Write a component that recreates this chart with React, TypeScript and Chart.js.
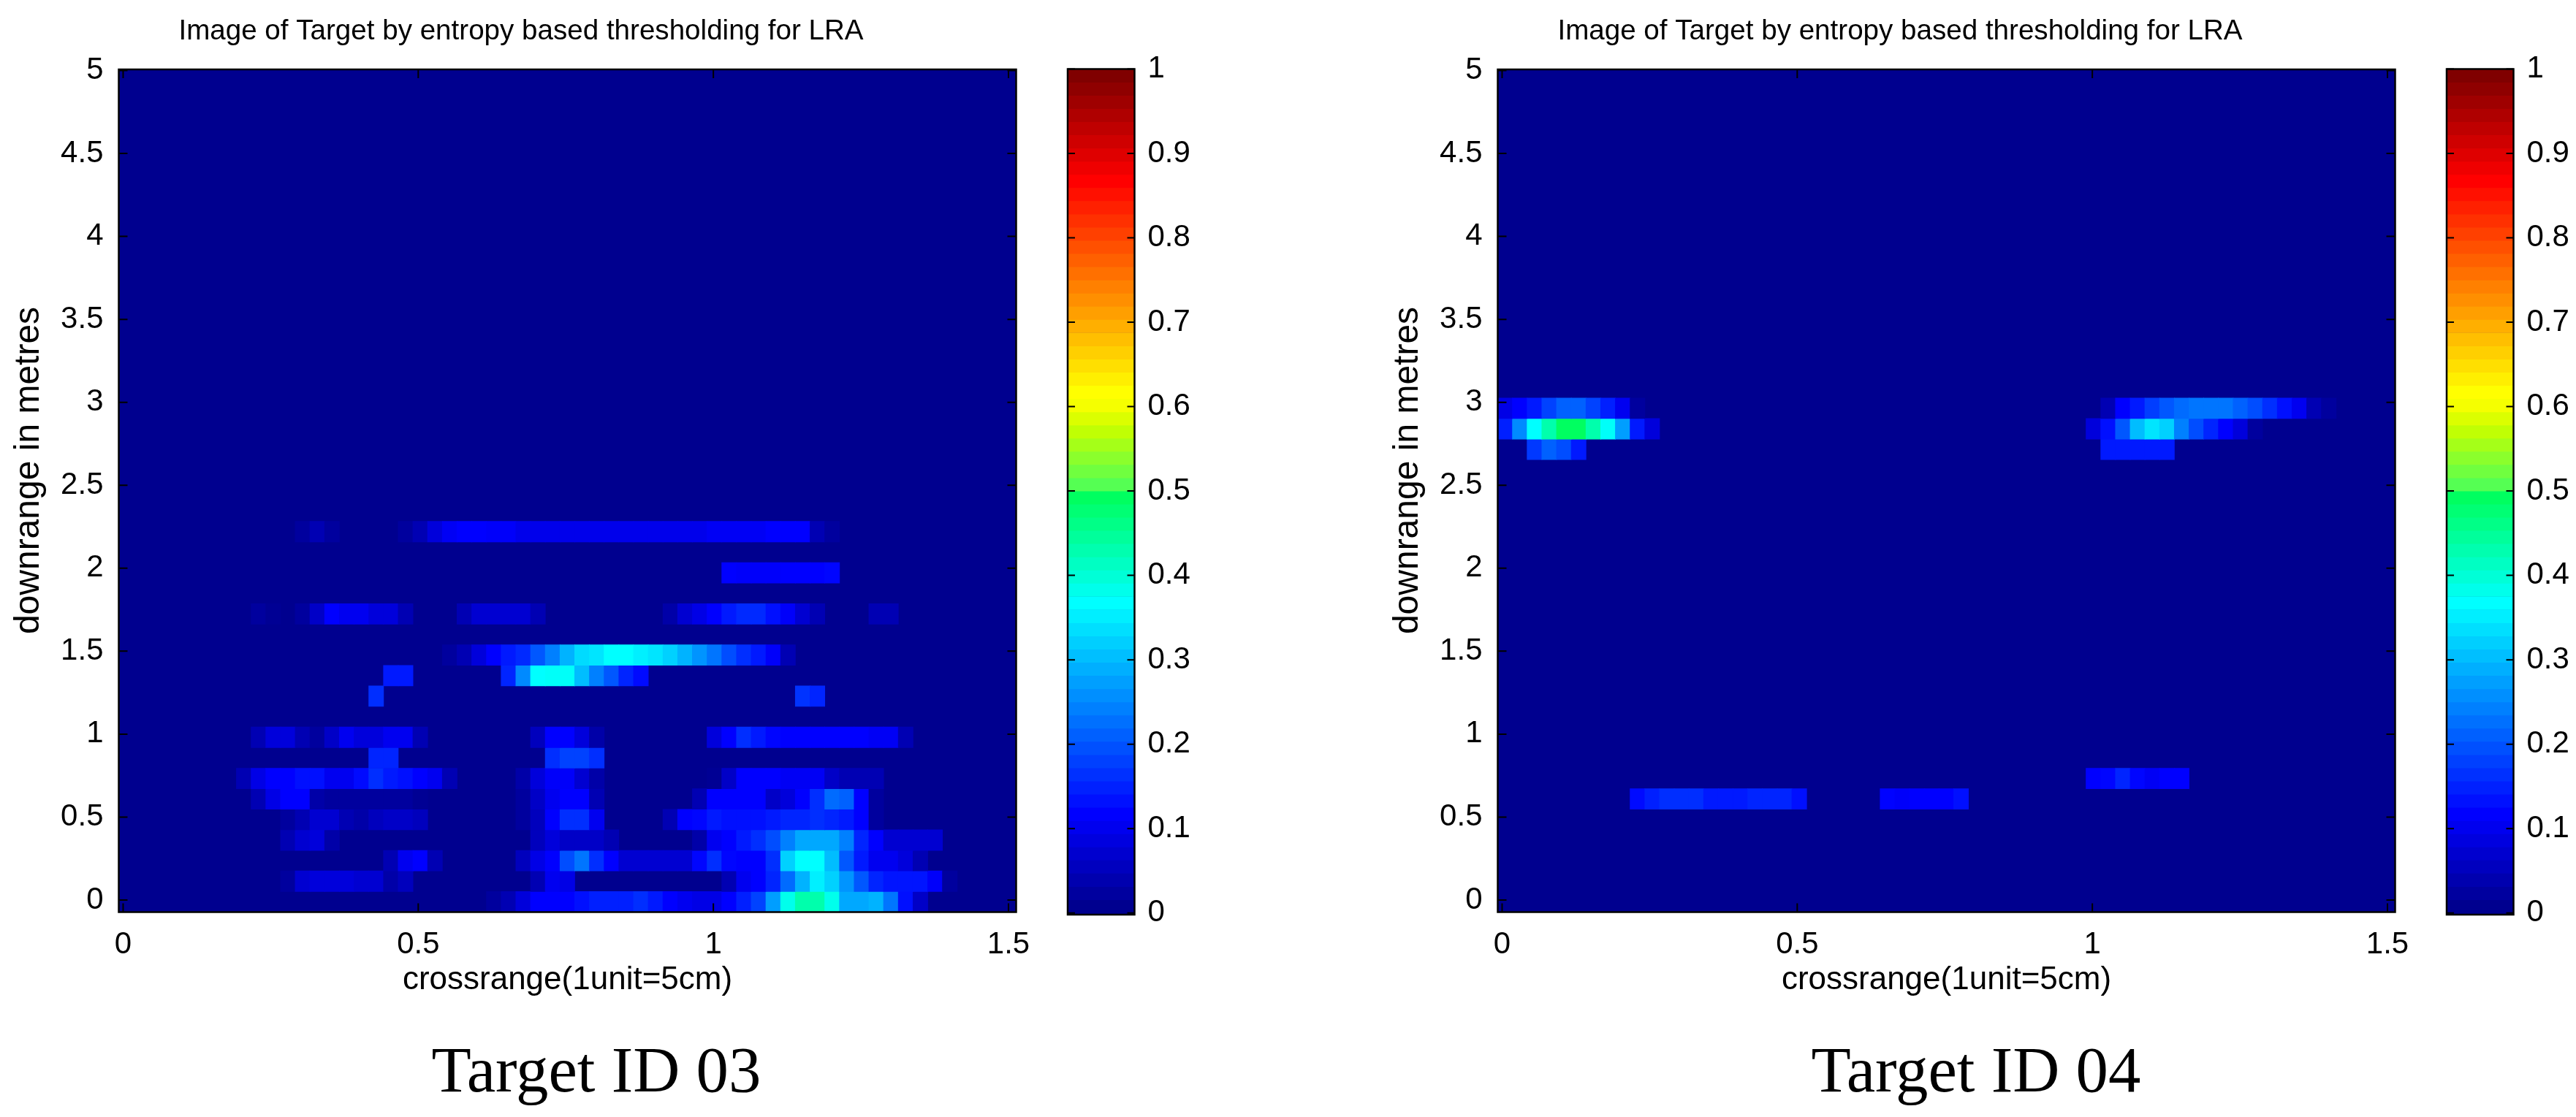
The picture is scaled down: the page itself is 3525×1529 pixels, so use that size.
import React, { useEffect, useRef } from "react";
import { Chart, registerables } from "chart.js";

Chart.register(...registerables);

const chartTitle = "Image of Target by entropy based thresholding for LRA";
const xAxisLabel = "crossrange(1unit=5cm)";
const yAxisLabel = "downrange in metres";
const captionLeft = "Target ID 03";
const captionRight = "Target ID 04";

// grid of the image: 61 columns, 41 rows (in axis units)
const xMin = -0.0074;
const xMax = 1.513;
const yMin = -0.0727;
const yMax = 5.0066;
const colStep = 0.02492;
const rowStep = 0.12395;
const colorLevels = 64;

// each row: segments of [first column, ...values]
const t03Row00 = [[25, .03, .05, .09, .125, .125, .125, .14, .155, .155, .155, .17, .15, .125, .11, .1, .1, .125, .155, .19, .28, .39, .44, .44, .39, .29, .29, .3, .24, .14, .07]];
const t03Row01 = [[11, .03, .08, .09, .09, .09, .08, .08, .04, .06], [28, .05, .11, .10], [41, .05, .11, .125, .16, .23, .3, .36, .33, .27, .21, .16, .145, .145, .145, .12, .03]];
const t03Row02 = [[18, .05, .11, .125, .05], [27, .06, .10, .125, .2, .24, .17, .125, .08, .08, .08, .08, .08, .13, .17, .13, .125, .125, .17, .33, .375, .375, .31, .21, .15, .11, .11, .09, .05]];
const t03Row03 = [[11, .05, .08, .09, .04], [28, .06, .09, .07, .07, .07, .05], [39, .04, .11, .125, .15, .17, .2, .25, .29, .29, .29, .25, .16, .125, .08, .08, .08, .08]];
const t03Row04 = [[11, .03, .05, .08, .08, .05, .04, .06, .07, .07, .06], [27, .03, .06, .125, .17, .17, .11], [37, .05, .125, .13, .15, .14, .14, .14, .15, .16, .16, .17, .16, .15, .125, .03]];
const t03Row05 = [[9, .05, .10, .125, .125, .04, .03, .03, .03, .03, .03, .03, .02], [27, .03, .07, .11, .125, .125, .05], [39, .05, .125, .125, .125, .125, .07, .09, .125, .17, .23, .22, .125, .03]];
const t03Row06 = [[8, .05, .10, .125, .125, .14, .14, .11, .11, .135, .17, .15, .14, .125, .11, .05], [27, .04, .09, .12, .12, .08, .04], [40, .02, .07, .125, .125, .125, .115, .115, .115, .07, .05, .05, .05]];
const t03Row07 = [[17, .16, .16], [29, .17, .19, .19, .17]];
const t03Row08 = [[9, .05, .09, .09, .05, .03, .07, .11, .09, .09, .11, .11, .05], [28, .06, .125, .125, .09, .04], [40, .09, .125, .17, .15, .13, .125, .125, .125, .125, .125, .125, .115, .115, .05]];
const t03Row10 = [[17, .17], [46, .175, .16]];
const t03Row11 = [[18, .15, .15], [26, .16, .26, .375, .38, .38, .31, .25, .21, .16, .135]];
const t03Row12 = [[22, .03, .05, .09, .125, .15, .165, .21, .25, .30, .34, .35, .375, .375, .36, .35, .33, .3, .27, .24, .2, .17, .15, .12, .05]];
const t03Row14 = [[9, .03, .02], [12, .03, .07, .125, .11, .11, .09, .09, .05], [23, .05, .08, .08, .08, .08, .05], [37, .04, .08, .10, .125, .15, .165, .165, .14, .12, .08, .05], [51, .05, .05]];
const t03Row16 = [[41, .125, .12, .12, .12, .125, .125, .125, .13]];
const t03Row18 = [[12, .03, .05, .03], [19, .03, .05, .09, .115, .125, .125, .12, .12, .105, .105, .105, .105, .105, .105, .105, .105, .105, .105, .105, .105, .105, .115, .115, .115, .115, .125, .125, .125, .05, .03]];

const t04Row05 = [[9, .135, .155, .17, .17, .17, .15, .15, .15, .16, .16, .16, .14], [26, .127, .12, .125, .125, .125, .14]];
const t04Row06 = [[40, .125, .13, .16, .13, .115, .125, .125]];
const t04Row22 = [[2, .18, .22, .2, .15], [41, .15, .15, .15, .15, .15]];
const t04Row23 = [[0, .155, .26, .375, .44, .5, .5, .44, .38, .28, .15, .09], [40, .09, .14, .21, .31, .35, .33, .25, .2, .16, .125, .09, .03]];
const t04Row24 = [[0, .10, .125, .15, .19, .22, .22, .19, .155, .11, .03], [41, .05, .125, .15, .185, .21, .23, .24, .24, .24, .22, .2, .17, .14, .11, .05, .03]];

const target03RowIndex = [0, 1, 2, 3, 4, 5, 6, 7, 8, 10, 11, 12, 14, 16, 18];
const target03Rows = [t03Row00, t03Row01, t03Row02, t03Row03, t03Row04, t03Row05, t03Row06, t03Row07, t03Row08, t03Row10, t03Row11, t03Row12, t03Row14, t03Row16, t03Row18];
const target04RowIndex = [5, 6, 22, 23, 24];
const target04Rows = [t04Row05, t04Row06, t04Row22, t04Row23, t04Row24];

const FONT = "'Liberation Sans', Arial, sans-serif";
const NAVY = "#00008F";

// the reference's jet variant: red starts abruptly just above 0.5
function jet(v: number) {
  const t = Math.max(v, 1 / 64);
  const c = (x: number) => Math.round(255 * Math.min(1, Math.max(0, x)));
  const r = t < 0.508 ? 0 : Math.min(0.33 + (t - 0.515) * 6.7, 4.5 - 4 * t);
  const g = Math.min(4 * t - 0.5, 3.5 - 4 * t);
  const b = t <= 0.375 ? Math.min(1, 4 * t + 0.5) : t < 0.508 ? 1 - 5 * (t - 0.375) : 0.33 - (t - 0.515) * 5;
  return `rgb(${c(r)},${c(g)},${c(b)})`;
}

function cellsFrom(rowIndex: number[], rows: number[][][]) {
  const data: { x: number; y: number[] }[] = [];
  const colors: string[] = [];
  rows.forEach((segments, k) => {
    const lo = yMin + rowIndex[k] * rowStep;
    segments.forEach(([start, ...values]) => {
      values.forEach((v, i) => {
        data.push({ x: xMin + (start + i + 0.5) * colStep, y: [lo, lo + rowStep] });
        colors.push(jet(v));
      });
    });
  });
  return { data, colors };
}

const framePlugin = {
  id: "frame",
  beforeDatasetsDraw(chart: any) {
    const { ctx, chartArea: a } = chart;
    ctx.save();
    ctx.fillStyle = chart.options.plugins.frame.fill;
    ctx.fillRect(a.left, a.top, a.right - a.left, a.bottom - a.top);
    ctx.restore();
  },
  afterDatasetsDraw(chart: any) {
    const { ctx, chartArea: a, scales } = chart;
    const o = chart.options.plugins.frame;
    ctx.save();
    ctx.strokeStyle = "#000";
    ctx.lineWidth = 2;
    ctx.beginPath();
    for (const t of scales.y.ticks) {
      const p = scales.y.getPixelForValue(t.value);
      ctx.moveTo(a.left, p);
      ctx.lineTo(a.left + o.tick, p);
      ctx.moveTo(a.right, p);
      ctx.lineTo(a.right - o.tick, p);
    }
    if (o.xTicks) {
      for (const t of scales.x.ticks) {
        const p = scales.x.getPixelForValue(t.value);
        ctx.moveTo(p, a.bottom);
        ctx.lineTo(p, a.bottom - o.tick);
        ctx.moveTo(p, a.top);
        ctx.lineTo(p, a.top + o.tick);
      }
    }
    ctx.stroke();
    ctx.lineWidth = 2.5;
    ctx.strokeRect(a.left, a.top, a.right - a.left, a.bottom - a.top);
    if (o.yLabel) {
      ctx.fillStyle = "#000";
      ctx.font = `48px ${FONT}`;
      ctx.textAlign = "center";
      ctx.textBaseline = "middle";
      ctx.translate(40, 644);
      ctx.rotate(-Math.PI / 2);
      ctx.fillText(o.yLabel, 0, 0);
    }
    ctx.restore();
  },
};

function heatConfig(rowIndex: number[], rows: number[][][]): any {
  const { data, colors } = cellsFrom(rowIndex, rows);
  return {
    type: "bar",
    data: {
      datasets: [
        { data, backgroundColor: colors, borderWidth: 0, barThickness: 20.3, grouped: false },
      ],
    },
    plugins: [framePlugin],
    options: {
      animation: false,
      responsive: false,
      events: [],
      layout: { padding: { top: 0, left: 35.5, right: 33.5, bottom: 160.5 } },
      plugins: {
        legend: { display: false },
        tooltip: { enabled: false },
        title: {
          display: true,
          text: chartTitle,
          color: "#000",
          font: { family: FONT, size: 38.6, weight: "normal", lineHeight: 1.2 },
          padding: { top: 20, bottom: 28.7 },
        },
        frame: { fill: NAVY, tick: 12, xTicks: true, yLabel: yAxisLabel },
      },
      scales: {
        x: {
          type: "linear",
          offset: false,
          min: xMin,
          max: xMax,
          grid: { display: false, offset: false },
          border: { display: false },
          afterFit: (s: any) => { s.height = 120; },
          ticks: {
            stepSize: 0.5,
            includeBounds: false,
            autoSkip: false,
            maxRotation: 0,
            padding: 12,
            color: "#000",
            font: { family: FONT, size: 42 },
            callback: (v: any) => String(+(+v).toFixed(1)),
          },
          title: {
            display: true,
            text: xAxisLabel,
            color: "#000",
            font: { family: FONT, size: 44, lineHeight: 1.2 },
            padding: { top: 0, bottom: 0 },
          },
        },
        y: {
          type: "linear",
          min: yMin,
          max: yMax,
          grid: { display: false },
          border: { display: false },
          afterFit: (s: any) => { s.width = 127; },
          ticks: {
            stepSize: 0.5,
            includeBounds: false,
            autoSkip: false,
            padding: 13,
            color: "#000",
            font: { family: FONT, size: 42 },
            callback: (v: any) => String(+(+v).toFixed(1)),
          },
        },
      },
    },
  };
}

function barConfig(width: number): any {
  const levels = Array.from({ length: colorLevels }, (_, i) => i);
  return {
    type: "bar",
    data: {
      datasets: [
        {
          data: levels.map((i) => ({ x: 0.5, y: [i / colorLevels, (i + 1) / colorLevels] })),
          backgroundColor: levels.map((i) => jet((i + 1) / colorLevels)),
          borderWidth: 0,
          barThickness: 92,
          grouped: false,
        },
      ],
    },
    plugins: [framePlugin],
    options: {
      animation: false,
      responsive: false,
      events: [],
      layout: { padding: { top: 94.5, left: 21, right: 0, bottom: 277 } },
      plugins: {
        legend: { display: false },
        tooltip: { enabled: false },
        frame: { fill: NAVY, tick: 10, xTicks: false },
      },
      scales: {
        x: { type: "linear", offset: false, display: false, min: 0, max: 1, grid: { offset: false } },
        y: {
          type: "linear",
          position: "right",
          min: -0.002,
          max: 1,
          grid: { display: false },
          border: { display: false },
          afterFit: (s: any) => { s.width = width - 21 - 91.5; },
          ticks: {
            stepSize: 0.1,
            includeBounds: false,
            autoSkip: false,
            padding: 10,
            color: "#000",
            font: { family: FONT, size: 42 },
            callback: (v: any) => String(+(+v).toFixed(1)),
          },
        },
      },
    },
  };
}

const canvasStyle = (left: number): React.CSSProperties => ({ position: "absolute", left, top: 0, display: "block" });

const captionStyle = (center: number): React.CSSProperties => ({
  position: "absolute",
  left: center - 400,
  width: 800,
  top: 1414,
  textAlign: "center",
  fontFamily: "'Liberation Serif', serif",
  fontSize: 88.8,
  lineHeight: "100px",
  color: "#000",
});

export default function App() {
  const heatL = useRef<HTMLCanvasElement>(null);
  const barL = useRef<HTMLCanvasElement>(null);
  const heatR = useRef<HTMLCanvasElement>(null);
  const barR = useRef<HTMLCanvasElement>(null);

  useEffect(() => {
    const charts = [
      new Chart(heatL.current as any, heatConfig(target03RowIndex, target03Rows)),
      new Chart(barL.current as any, barConfig(190)),
      new Chart(heatR.current as any, heatConfig(target04RowIndex, target04Rows)),
      new Chart(barR.current as any, barConfig(190)),
    ];
    return () => charts.forEach((c) => c.destroy());
  }, []);

  return (
    <div style={{ position: "absolute", left: 0, top: 0, width: 3525, height: 1529, background: "#fff", overflow: "hidden" }}>
      <canvas ref={heatL} width={1424} height={1529} style={canvasStyle(0)} />
      <canvas ref={barL} width={190} height={1529} style={canvasStyle(1440)} />
      <canvas ref={heatR} width={1424} height={1529} style={canvasStyle(1887)} />
      <canvas ref={barR} width={190} height={1529} style={canvasStyle(3327)} />
      <div style={captionStyle(816)}>{captionLeft}</div>
      <div style={captionStyle(2704)}>{captionRight}</div>
    </div>
  );
}
